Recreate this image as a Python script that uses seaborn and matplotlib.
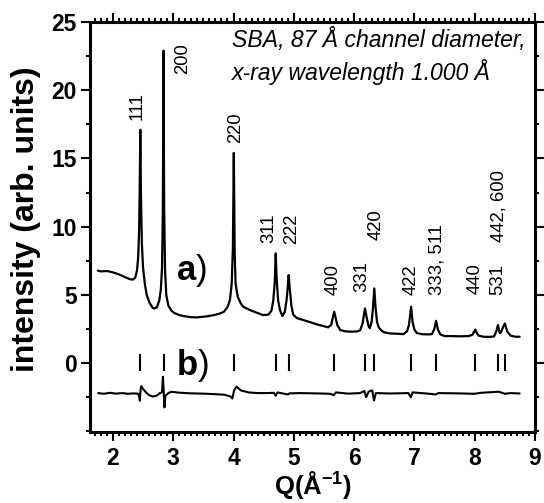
import numpy as np
import pandas as pd
import matplotlib
matplotlib.use("Agg")
import matplotlib.pyplot as plt
import seaborn as sns
from matplotlib.ticker import MultipleLocator

# ---- (a) measured powder pattern, Q in 1/Å ----
q_a = [1.75, 1.80, 1.90, 2.00, 2.10, 2.20, 2.28, 2.33, 2.37, 2.40, 2.42, 2.435,
       2.445, 2.455, 2.465, 2.48, 2.50, 2.53, 2.56, 2.61, 2.66, 2.69, 2.73, 2.77,
       2.795, 2.815, 2.828, 2.84, 2.85, 2.865, 2.885, 2.92, 2.97, 3.01, 3.10, 3.18,
       3.30, 3.40, 3.55, 3.68, 3.78, 3.84, 3.90, 3.94, 3.97, 3.99, 4.005, 4.02,
       4.035, 4.07, 4.12, 4.16, 4.27, 4.38, 4.49, 4.58, 4.63, 4.66, 4.685, 4.70,
       4.715, 4.74, 4.77, 4.81, 4.85, 4.88, 4.90, 4.915, 4.93, 4.96, 4.99, 5.05,
       5.16, 5.27, 5.38, 5.48, 5.57, 5.62, 5.65, 5.67, 5.69, 5.72, 5.77, 5.85,
       5.94, 6.05, 6.10, 6.14, 6.18, 6.21, 6.24, 6.26, 6.29, 6.31, 6.335, 6.355,
       6.38, 6.41, 6.45, 6.50, 6.60, 6.72, 6.82, 6.88, 6.91, 6.945, 6.97, 7.00,
       7.04, 7.12, 7.22, 7.29, 7.33, 7.36, 7.39, 7.43, 7.50, 7.60, 7.75, 7.90,
       7.96, 7.99, 8.01, 8.035, 8.07, 8.15, 8.25, 8.32, 8.36, 8.385, 8.405, 8.42,
       8.44, 8.475, 8.50, 8.52, 8.54, 8.60, 8.68, 8.745]
i_a = [6.78, 6.72, 6.75, 6.65, 6.50, 6.30, 6.15, 6.12, 6.25, 6.8, 7.8, 9.8,
       13.0, 17.1, 12.5, 8.8, 7.0, 5.8, 5.0, 4.4, 4.05, 4.0, 4.1, 4.6,
       5.4, 7.0, 11.0, 22.9, 11.5, 6.8, 5.0, 4.2, 3.85, 3.69, 3.52, 3.44,
       3.36, 3.35, 3.42, 3.52, 3.64, 3.76, 4.1, 4.6, 5.8, 8.5, 15.4, 8.0,
       5.8, 4.86, 4.38, 4.13, 3.89, 3.7, 3.52, 3.55, 3.85, 4.6, 6.0, 8.04,
       6.2, 4.6, 3.9, 3.45, 3.75, 4.6, 5.6, 6.45, 5.6, 4.2, 3.55, 3.3,
       3.15, 3.0, 2.84, 2.72, 2.62, 2.8, 3.4, 3.76, 3.4, 2.8, 2.42, 2.33,
       2.3, 2.32, 2.4, 2.9, 4.0, 3.3, 2.7, 2.56, 3.0, 3.9, 5.47, 4.1,
       3.0, 2.6, 2.4, 2.25, 2.17, 2.15, 2.12, 2.35, 2.8, 4.13, 3.0, 2.45,
       2.2, 2.12, 2.1, 2.12, 2.5, 3.1, 2.45, 2.1, 1.98, 1.98, 1.96, 1.98,
       2.07, 2.3, 2.46, 2.2, 2.0, 1.93, 1.92, 1.95, 2.35, 2.79, 2.35, 2.2,
       2.3, 2.7, 2.9, 2.6, 2.3, 2.0, 1.93, 1.93]

# ---- (b) difference curve (offset) ----
q_b = [1.755, 1.85, 1.95, 2.05, 2.15, 2.25, 2.35, 2.42, 2.44, 2.447, 2.458, 2.47,
       2.50, 2.55, 2.60, 2.66, 2.72, 2.78, 2.815, 2.83, 2.845, 2.855, 2.87, 2.92,
       2.97, 3.10, 3.30, 3.50, 3.70, 3.85, 3.95, 3.98, 4.01, 4.05, 4.12, 4.25,
       4.40, 4.55, 4.67, 4.70, 4.73, 4.90, 4.93, 5.10, 5.36, 5.60, 5.66, 5.70,
       5.90, 6.10, 6.17, 6.20, 6.24, 6.30, 6.33, 6.36, 6.60, 6.90, 6.94, 6.97,
       7.20, 7.35, 7.40, 7.70, 8.00, 8.10, 8.40, 8.50, 8.60, 8.745]
i_b = [-2.20, -2.25, -2.18, -2.24, -2.20, -2.25, -2.22, -2.25, -2.55, -2.76, -2.0, -1.69,
       -1.9, -2.15, -2.35, -2.45, -2.4, -2.2, -2.15, -1.0, -2.3, -3.25, -2.4, -2.2,
       -2.1, -2.17, -2.22, -2.24, -2.28, -2.32, -2.45, -2.6, -2.0, -1.72, -2.0, -2.15,
       -2.2, -2.2, -2.18, -2.4, -2.15, -2.3, -2.22, -2.2, -2.22, -2.25, -2.35, -2.15,
       -2.24, -2.2, -2.05, -2.5, -2.1, -2.0, -2.75, -2.2, -2.23, -2.2, -2.5, -2.15,
       -2.23, -2.3, -2.2, -2.22, -2.25, -2.18, -2.1, -2.25, -2.2, -2.23]

# ---- Bragg reflections of the cubic mesostructure ----
refl_q = [2.455, 2.84, 4.005, 4.70, 4.915, 5.67, 6.18, 6.335, 6.945, 7.36, 8.01, 8.385, 8.50]

# index labels: text, x (Q), lower end of text (intensity)
hkl_text = ["111", "200", "220", "311", "222", "400", "331", "420", "422",
            "333, 511", "440", "531", "442, 600"]
hkl_x = [2.40, 3.163, 4.027, 4.58, 4.968, 5.66, 6.13, 6.36, 6.95, 7.377, 8.008, 8.374, 8.41]
hkl_y = [17.85, 21.19, 16.1, 8.77, 8.7, 4.98, 5.23, 9.0, 4.98, 4.98, 5.04, 4.98, 8.9]

sns.set_style("ticks")
plt.rcParams["font.family"] = ["Liberation Sans", "DejaVu Sans"]
plt.rcParams["mathtext.fontset"] = "custom"
plt.rcParams["mathtext.rm"] = "Liberation Sans"
plt.rcParams["mathtext.bf"] = "Liberation Sans:bold"
plt.rcParams["mathtext.it"] = "Liberation Sans:italic"
for key in ("text.color", "axes.labelcolor", "xtick.color", "ytick.color", "axes.edgecolor"):
    plt.rcParams[key] = "black"

fig = plt.figure(figsize=(5.44, 5.03), dpi=100)
ax = fig.add_axes([0.1654, 0.1412, 0.8181, 0.8151])

df_a = pd.DataFrame({"Q": q_a, "I": i_a})
df_b = pd.DataFrame({"Q": q_b, "I": i_b})
sns.lineplot(data=df_a, x="Q", y="I", ax=ax, color="black", lw=1.6, estimator=None, sort=False)
sns.lineplot(data=df_b, x="Q", y="I", ax=ax, color="black", lw=1.5, estimator=None, sort=False)
ax.vlines(refl_q, -0.55, 0.65, color="black", lw=1.5)

for t, x, y in zip(hkl_text, hkl_x, hkl_y):
    ax.text(x, y, t, rotation=90, ha="center", va="bottom", fontsize=13.3,
            fontweight="normal", color="black")

ax.text(3.977, 23.19, "SBA, 87 Å channel diameter,", fontsize=16.6, style="italic",
        ha="left", va="baseline")
ax.text(3.977, 20.75, "x-ray wavelength 1.000 Å", fontsize=16.6, style="italic",
        ha="left", va="baseline")

ax.text(3.05, 6.08, r"$\mathbf{a}$)", fontsize=25, ha="left", va="baseline")
ax.text(3.05, -0.88, r"$\mathbf{b}$)", fontsize=25, ha="left", va="baseline")

ax.set_xlim(1.62, 9.0)
ax.set_ylim(-5.05, 25.0)
ax.set_xticks(range(2, 10))
ax.set_yticks([0, 5, 10, 15, 20, 25])
ax.xaxis.set_minor_locator(MultipleLocator(0.1))
ax.yaxis.set_minor_locator(MultipleLocator(2.5))

ax.tick_params(which="both", direction="out", top=True, right=True, width=1.5,
               color="black", labelcolor="black")
ax.tick_params(which="major", length=6.5, labelsize=16.5, pad=3)
ax.tick_params(which="minor", length=3.2)
ax.tick_params(axis="x", which="major", pad=4)
for lbl in ax.get_xticklabels() + ax.get_yticklabels():
    lbl.set_fontweight("bold")

for s in ax.spines.values():
    s.set_linewidth(2.2)
    s.set_color("black")

ax.set_xlabel(r"Q(Å$^{\mathbf{-1}}$)", fontsize=18.5, fontweight="bold", color="black")
ax.xaxis.set_label_coords(0.5, -0.09)
ax.set_ylabel("intensity (arb. units)", fontsize=23, fontweight="bold", color="black")
ax.yaxis.set_label_coords(-0.11, 0.52)

fig.savefig("out.png", dpi=100)
